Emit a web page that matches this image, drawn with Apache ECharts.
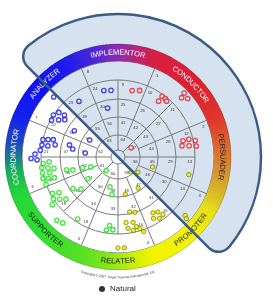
<!DOCTYPE html>
<html><head><meta charset="utf-8">
<script src="https://cdn.jsdelivr.net/npm/echarts@6/dist/echarts.min.js"></script>
<style>html,body{margin:0;padding:0;background:#fff}#c{width:273px;height:296px}</style>
</head><body><div id="c"></div>
<script>
// ---------------- data ----------------
const typeNames   = ['IMPLEMENTOR','CONDUCTOR','PERSUADER','PROMOTER','RELATER','SUPPORTER','COORDINATOR','ANALYZER'];
const typeAngles  = [0,45,90,135,180,225,270,315];
const typeOutward = [true,true,true,false,false,false,true,true];
const typeColors  = ['#ffffff','#ffffff','#2a2a2a','#2a2a2a','#1a1a1a','#1a1a1a','#ffffff','#ffffff'];

const bandStops = [
  [0,'#8e2cac'],[10,'#b82476'],[20,'#d81f44'],[45,'#e01e30'],[68,'#e0342a'],[80,'#e05a2c'],
  [95,'#d8882e'],[108,'#d4b228'],[120,'#e6de18'],[135,'#f2f20c'],[160,'#f2f400'],[172,'#c8f008'],
  [185,'#88e618'],[200,'#58e024'],[225,'#2ee030'],[250,'#24d638'],[262,'#18b058'],[270,'#1a7c8a'],
  [278,'#1c48c8'],[292,'#1420ee'],[315,'#1010f4'],[335,'#2820e6'],[350,'#5a28d0'],[360,'#8e2cac']
];

const ringRadii = [7,22,40,58,77,96];
const ring1Labels = ['1','2','3','4','5','6','7','8'];
const ring2Labels = ['9','10','11','12','13','14','15','16','17','18','19','20','21','22','23','24'];
const ring3Labels = ['25','26','27','28','29','30','31','32','33','34','35','36','37','38','39','40'];
const ring4Labels = ['41','42','43','44','45','46','47','48','49','50','51','52','53','54','55','56'];
const ring5Labels = ['57','58','59','60','61','62','63','64'];

// [radius, angle(deg, clockwise from top)]
const blueDots = [
  [68,348],[67,354],[68,325],[50,348],[88,313],[77,303],[74,307],[68,308],[76,299],[70,302],
  [65,305],[51,301],[33,301],[77,283],[72,284],[67,285],[77,279],[71,279],[64,281],[78,275],
  [50,284],[46,280],[33,277],[83,272],[87,269],[81,268]
];
const redDots = [
  [68,12],[70,18],[75,36],[75,39],[69,36],[74,41],[87,47],[92,46],[91,50],
  [67,76],[73,76],[79,78],[65,80],[72,81],[79,82],[16,55]
];
const greenDots = [
  [75,265],[69,266],[77,262],[71,261],[65,260],[77,258],[70,257],[78,254],[73,253],[67,252],
  [77,249],[53,256],[47,254],[37,253],[29,250],[18,221],[75,241],[69,239],[77,237],[72,234],
  [67,231],[81,234],[55,235],[49,229],[37,234],[31,195],[38,189],[74,213],[88,224],[86,220],
  [69,187],[74,189],[73,184]
];
const yellowDots = [
  [20,139],[25,127],[36,106],[73,104],[38,169],[37,147],[56,168],[58,163],[66,148],[68,144],
  [73,142],[71,150],[74,146],[89,131],[92,132],[66,173],[67,167],[72,165],[72,172],[75,168],
  [75,163],[79,161],[91,180],[91,176]
];
const copyrightText = 'Copyright \u00a9 2007 Target Training International, Ltd.';
const legendName = 'Natural';

// ---------------- helpers ----------------
const FONT = '"Liberation Sans", Arial, sans-serif';
const mctx = document.createElement('canvas').getContext('2d');
function hex(c){return [parseInt(c.substr(1,2),16),parseInt(c.substr(3,2),16),parseInt(c.substr(5,2),16)];}
function bandColor(a){
  for(let i=0;i<bandStops.length-1;i++){
    const [a0,c0]=bandStops[i],[a1,c1]=bandStops[i+1];
    if(a>=a0&&a<=a1){const t=(a-a0)/(a1-a0),x=hex(c0),y=hex(c1);
      return 'rgb('+x.map((v,k)=>Math.round(v+(y[k]-v)*t)).join(',')+')';}
  }
  return bandStops[0][1];
}
function H(api){
  const c=api.coord([0,0]);const cx=c[0],cy=c[1];
  const pt=(r,a)=>api.coord([r,a]);
  const scr=a=>{const p=api.coord([100,a]);return Math.atan2(p[1]-cy,p[0]-cx);};
  const rad=r=>{const p=api.coord([r,0]);return Math.hypot(p[0]-cx,p[1]-cy);};
  return {cx,cy,pt,scr,rad};
}
function sector(h,r0,r1,a0,a1,style,corner){
  const s=h.scr(a0);
  return {type:'sector',shape:{cx:h.cx,cy:h.cy,r0:h.rad(r0),r:h.rad(r1),startAngle:s,endAngle:s+(a1-a0)*Math.PI/180,clockwise:true,cornerRadius:corner||0},style};
}
function curved(h,text,center,r,font,color,outward){
  mctx.font=font;
  const chars=text.split('');const w=chars.map(ch=>mctx.measureText(ch).width);
  const R=h.rad(r);const total=w.reduce((s,v)=>s+v,0);
  let acc=0;const out=[];
  chars.forEach((ch,i)=>{
    const mid=acc+w[i]/2;acc+=w[i];
    const off=(mid-total/2)/R*180/Math.PI;
    const a=outward?center+off:center-off;
    const p=h.pt(r,a);
    const rot=outward?-a*Math.PI/180:-(a-180)*Math.PI/180;
    out.push({type:'text',x:p[0],y:p[1],rotation:rot,style:{text:ch,fill:color,font,align:'center',verticalAlign:'middle'}});
  });
  return out;
}
function custom(name,z,build){
  return {type:'custom',name,coordinateSystem:'polar',polarIndex:0,silent:true,z,data:[[0,0]],
    renderItem:(params,api)=>({type:'group',children:build(H(api))})};
}

// ---------------- layers ----------------
const overlayFill = custom('overlayFill',1,h=>[sector(h,0,143,315,495,{fill:'#d6e2ef'},14)]);
const overlayLine = custom('overlayLine',9,h=>[sector(h,0,143,315,495,{fill:'none',stroke:'#3b5c86',lineWidth:2.5},14)]);

const band = custom('band',3,h=>{
  const els=[];
  for(let a=0;a<360;a+=1.5){els.push(sector(h,96,113,a,a+1.9,{fill:bandColor(a+0.75)}));}
  els.push({type:'circle',shape:{cx:h.cx,cy:h.cy,r:h.rad(113)},style:{fill:'none',stroke:'rgba(0,0,0,0.18)',lineWidth:1}});
  return els;
});

const grid = custom('grid',2,h=>{
  const els=[];const st={stroke:'#7a7a7a',lineWidth:1,fill:'none'};
  ringRadii.forEach(r=>els.push({type:'circle',shape:{cx:h.cx,cy:h.cy,r:h.rad(r)},style:st}));
  const spokes=[[77,96,22.5,45,8],[22,77,0,22.5,16],[7,22,0,45,8]];
  spokes.forEach(([r0,r1,off,step,n])=>{
    for(let i=0;i<n;i++){const a=off+step*i,p=h.pt(r0,a),q=h.pt(r1,a);
      els.push({type:'line',shape:{x1:p[0],y1:p[1],x2:q[0],y2:q[1]},style:st});}
  });
  return els;
});

const numbers = custom('numbers',4,h=>{
  const els=[];
  const rings=[[ring1Labels,96,22.5,45,5.5],[ring2Labels,77,0,22.5,5],[ring3Labels,58,0,22.5,5.5],[ring4Labels,40,0,22.5,5.5],[ring5Labels,22,45,45,4]];
  rings.forEach(([labs,rOut,start,step,inset])=>{
    const r=rOut-inset;const off=(5/h.rad(r))*180/Math.PI;
    labs.forEach((t,i)=>{const p=h.pt(r,start+step*i+off);
      els.push({type:'text',x:p[0],y:p[1],style:{text:t,fill:'#333',font:'4.2px '+FONT,align:'center',verticalAlign:'middle'}});});
  });
  return els;
});

const bandText = custom('bandText',8,h=>{
  let els=[];
  typeNames.forEach((t,i)=>{els=els.concat(curved(h,t,typeAngles[i],104.5,'7.5px '+FONT,typeColors[i],typeOutward[i]));});
  els=els.concat(curved(h,copyrightText,180,120.5,'3.3px '+FONT,'#333',false));
  return els;
});

function dots(name,data,border,fill,bw){
  return {type:'scatter',name,coordinateSystem:'polar',polarIndex:0,z:6,symbol:'circle',symbolSize:4.3,
    data,silent:true,itemStyle:{color:fill,borderColor:border,borderWidth:bw}};
}

const option = {
  animation:false,
  polar:[{center:[118,157],radius:143}],
  angleAxis:{polarIndex:0,type:'value',min:0,max:360,startAngle:90,clockwise:true,show:false},
  radiusAxis:{polarIndex:0,type:'value',min:0,max:143,show:false},
  legend:{data:[{name:legendName,icon:'circle'}],left:99,top:285,padding:0,itemWidth:6,itemHeight:6,itemGap:4,
    textStyle:{fontSize:8,color:'#222',fontFamily:FONT},selectedMode:false},
  series:[
    overlayFill,grid,band,numbers,
    dots('blue',blueDots,'#1c1ce0','#ffffff',1.4),
    dots('red',redDots,'#e0202c','#ffffff',1.4),
    dots('green',greenDots,'#22e022','#ffffff',1.4),
    dots('yellow',yellowDots,'#8c8c00','#ecec10',1),
    bandText,overlayLine,
    {type:'scatter',name:legendName,coordinateSystem:'polar',polarIndex:0,data:[],itemStyle:{color:'#000'}}
  ]
};
const chart=echarts.init(document.getElementById('c'),null,{renderer:'canvas',width:273,height:296});
chart.setOption(option);
</script></body></html>
